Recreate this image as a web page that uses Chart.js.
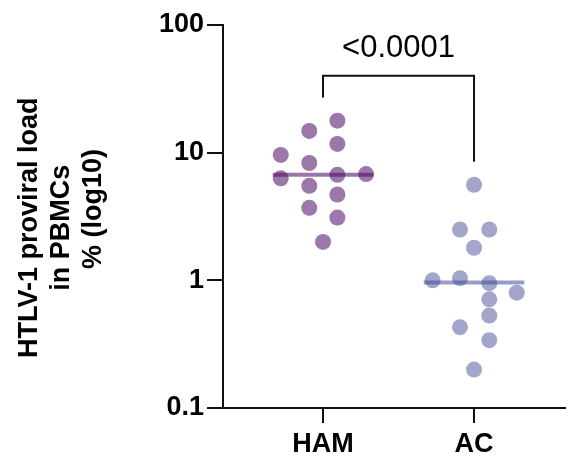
<!DOCTYPE html>
<html>
<head>
<meta charset="utf-8">
<script src="https://cdn.jsdelivr.net/npm/chart.js@4"></script>
<style>
  html, body { margin: 0; padding: 0; background: #fff; }
  #wrap { width: 566px; height: 456px; }
</style>
</head>
<body>
<div id="wrap"><canvas id="chart"></canvas></div>
<script>
const groups = ["HAM", "AC"];
const yTicks = [0.1, 1, 10, 100];

// jittered x positions (group index 1 / 2) and proviral load values
const hamX = [1.095, 0.909, 1.095, 0.72, 0.909, 0.72, 1.095, 1.285, 0.909, 1.095, 0.909, 1.095, 1.0];
const hamY = [17.8, 14.8, 11.7, 9.6, 8.3, 6.3, 6.7, 6.8, 5.5, 4.7, 3.7, 3.1, 2.0];
const acX = [2.0, 1.907, 2.101, 2.0, 1.726, 1.907, 2.101, 2.283, 2.101, 2.101, 1.907, 2.101, 2.0];
const acY = [5.6, 2.5, 2.5, 1.8, 1.0, 1.04, 0.95, 0.8, 0.71, 0.53, 0.43, 0.34, 0.2];

const medians = [6.7, 0.96];
const medianHalfWidth = 0.333;

// significance bracket
const pText = "<0.0001";
const bracketTop = 40;
const bracketLegEnds = [27, 8.5];
const pTextY = 56;

const FONT = "'Liberation Sans', Arial, sans-serif";

const toPoints = (xs, ys) => xs.map((x, i) => ({ x: x, y: ys[i] }));
const medianLine = (g) => [
  { x: g + 1 - medianHalfWidth, y: medians[g] },
  { x: g + 1 + medianHalfWidth, y: medians[g] },
];

const bracketPlugin = {
  id: "bracket",
  afterDatasetsDraw(chart) {
    const { ctx, scales } = chart;
    const x1 = scales.x.getPixelForValue(1);
    const x2 = scales.x.getPixelForValue(2);
    const yTop = scales.y.getPixelForValue(bracketTop);
    ctx.save();
    ctx.strokeStyle = "#111";
    ctx.lineWidth = 2;
    ctx.beginPath();
    ctx.moveTo(x1, scales.y.getPixelForValue(bracketLegEnds[0]));
    ctx.lineTo(x1, yTop);
    ctx.lineTo(x2, yTop);
    ctx.lineTo(x2, scales.y.getPixelForValue(bracketLegEnds[1]));
    ctx.stroke();
    ctx.fillStyle = "#000";
    ctx.font = "31px " + FONT;
    ctx.textAlign = "center";
    ctx.textBaseline = "alphabetic";
    ctx.fillText(pText, (x1 + x2) / 2, scales.y.getPixelForValue(pTextY));
    ctx.restore();
  },
};

new Chart(document.getElementById("chart"), {
  type: "scatter",
  data: {
    datasets: [
      {
        data: medianLine(0),
        showLine: true,
        borderColor: "rgba(80, 12, 100, 0.57)",
        borderWidth: 4,
        pointRadius: 0,
        order: 0,
      },
      {
        data: medianLine(1),
        showLine: true,
        borderColor: "rgba(57, 65, 149, 0.52)",
        borderWidth: 4,
        pointRadius: 0,
        order: 0,
      },
      {
        data: toPoints(hamX, hamY),
        backgroundColor: "#9c77a9",
        borderWidth: 0,
        pointRadius: 8,
        pointHoverRadius: 8,
        order: 1,
      },
      {
        data: toPoints(acX, acY),
        backgroundColor: "#a3a6cb",
        borderWidth: 0,
        pointRadius: 8,
        pointHoverRadius: 8,
        order: 1,
      },
    ],
  },
  options: {
    responsive: true,
    maintainAspectRatio: false,
    animation: false,
    events: [],
    layout: { autoPadding: false, padding: { top: 25, right: 0, left: 0, bottom: 0 } },
    plugins: {
      legend: { display: false },
      tooltip: { enabled: false },
    },
    scales: {
      x: {
        type: "linear",
        min: 0.3377,
        max: 2.609,
        afterBuildTicks: (scale) => {
          scale.ticks = groups.map((g, i) => ({ value: i + 1 }));
        },
        afterFit: (scale) => {
          scale.height = 48;
        },
        ticks: {
          color: "#000",
          padding: 5,
          font: { family: FONT, size: 27, weight: "bold" },
          callback: (v) => groups[v - 1],
        },
        grid: {
          drawOnChartArea: false,
          color: "#111",
          lineWidth: 2,
          tickLength: 15,
        },
        border: { color: "#111", width: 2 },
      },
      y: {
        type: "logarithmic",
        min: 0.1,
        max: 100,
        afterBuildTicks: (scale) => {
          scale.ticks = yTicks.map((v) => ({ value: v }));
        },
        afterFit: (scale) => {
          scale.width = 223;
        },
        ticks: {
          color: "#000",
          padding: 3,
          font: { family: FONT, size: 27, weight: "bold" },
          callback: (v) => String(v),
        },
        grid: {
          drawOnChartArea: false,
          color: "#111",
          lineWidth: 2,
          tickLength: 16,
        },
        border: { color: "#111", width: 2 },
        title: {
          display: true,
          // spaces keep the lines where the original put them
          text: ["HTLV-1 proviral load   ", "in PBMCs   ", "  % (log10)"],
          color: "#000",
          padding: { top: 13, bottom: 0 },
          font: { family: FONT, size: 27, weight: "bold", lineHeight: 1.2 },
        },
      },
    },
  },
  plugins: [bracketPlugin],
});
</script>
</body>
</html>
